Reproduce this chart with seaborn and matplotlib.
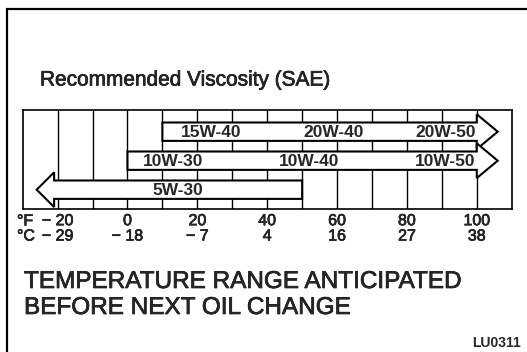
import matplotlib
matplotlib.use("Agg")
import matplotlib.pyplot as plt
import matplotlib.patheffects as pe
from matplotlib.lines import Line2D
from matplotlib.transforms import blended_transform_factory
import seaborn as sns
import pandas as pd

# Oil grades: temperature span (°F) each grade covers, and which band it sits in
bands = ["15W-40 / 20W-40 / 20W-50", "10W-30 / 10W-40 / 10W-50", "5W-30"]
band_low_f = [10, 0, -21]
band_high_f = [100, 100, 50]
band_direction = ["right", "right", "left"]

# Grade labels written along each band
grade_labels = [["15W-40", "20W-40", "20W-50"],
                ["10W-30", "10W-40", "10W-50"],
                ["5W-30"]]

# Temperature scale
deg_f = [-20, 0, 20, 40, 60, 80, 100]
deg_c = [-29, -18, -7, 4, 16, 27, 38]
grid_f = list(range(-20, 101, 10))

df = pd.DataFrame({"band": bands, "low": band_low_f, "high": band_high_f,
                   "direction": band_direction})

sns.set_theme(style="white")
plt.rcParams["font.family"] = ["Liberation Sans", "DejaVu Sans"]

W, H = 527, 352
fig = plt.figure(figsize=(W / 100, H / 100), dpi=100)
fig.patch.set_facecolor("white")

ink = [pe.withStroke(linewidth=0.45, foreground="black")]


def fx(px):
    return px / W


def fy(py):
    return 1 - py / H


def neg(v):
    return f"{v:d}".replace("-", "\u2212 ")


ax = fig.add_axes([fx(22.7), fy(209), fx(511.7) - fx(22.7), fy(110) - fy(209)])
ax.set_facecolor("white")
ax.set_xlim(-30, 110)
ax.set_ylim(2.666, -0.748)

# vertical temperature grid behind the bands
for g in grid_f:
    ax.axvline(g, color="black", lw=1.0, zorder=1)

body = 0.317
head = 0.60
tip = 6.0
label_x = [[24, 59, 91], [13, 52, 91], [14.5]]

for i, row in df.iterrows():
    lo, hi = row["low"], row["high"]
    if row["direction"] == "right":
        xs = [lo, hi, hi, hi + tip, hi, hi, lo]
    else:
        xs = [hi, lo, lo, lo - 5, lo, lo, hi]
    ys = [i - body, i - body, i - head, i, i + head, i + body, i + body]
    ax.fill(xs, ys, facecolor="white", edgecolor="black", lw=1.5,
            joinstyle="miter", zorder=3)
    for lab, x in zip(grade_labels[i], label_x[i]):
        ax.text(x, i + 0.03, lab, ha="center", va="center", fontsize=12.5,
                fontweight="bold", zorder=4)

for s in ax.spines.values():
    s.set_visible(True)
    s.set_color("black")
    s.set_linewidth(1.2)
    s.set_zorder(5)

# °F row as tick labels, °C row underneath on the same x scale
ax.set_yticks([])
ax.set_xticks(deg_f)
ax.set_xticklabels([neg(f) for f in deg_f], fontsize=11.5)
for t in ax.get_xticklabels():
    t.set_path_effects(ink)
ax.tick_params(axis="x", length=0, pad=3)
ax.set_xlabel("")
ax.set_ylabel("")

trans = blended_transform_factory(ax.transData, fig.transFigure)
for f, c in zip(deg_f, deg_c):
    ax.text(f, fy(236), neg(c), transform=trans, ha="center", va="center",
            fontsize=11.5, path_effects=ink, clip_on=False)

fig.text(fx(17), fy(221), "°F", fontsize=11.5, va="center", ha="left", path_effects=ink)
fig.text(fx(17), fy(236), "°C", fontsize=11.5, va="center", ha="left", path_effects=ink)

fig.text(fx(40), fy(80), "Recommended Viscosity (SAE)", fontsize=15,
         va="center", ha="left", path_effects=ink)
fig.text(fx(24), fy(282), "TEMPERATURE RANGE ANTICIPATED", fontsize=17.5,
         va="center", ha="left", path_effects=ink)
fig.text(fx(24), fy(308), "BEFORE NEXT OIL CHANGE", fontsize=17.5,
         va="center", ha="left", path_effects=ink)
fig.text(fx(521), fy(343), "LU0311", fontsize=10, fontweight="bold",
         va="center", ha="right")

# outer frame
fig.add_artist(Line2D([fx(7), fx(7)], [0, fy(9)], color="black", lw=1.6))
fig.add_artist(Line2D([fx(7), 1], [fy(9), fy(9)], color="black", lw=1.6))

fig.savefig("out.png", dpi=100, facecolor="white")
